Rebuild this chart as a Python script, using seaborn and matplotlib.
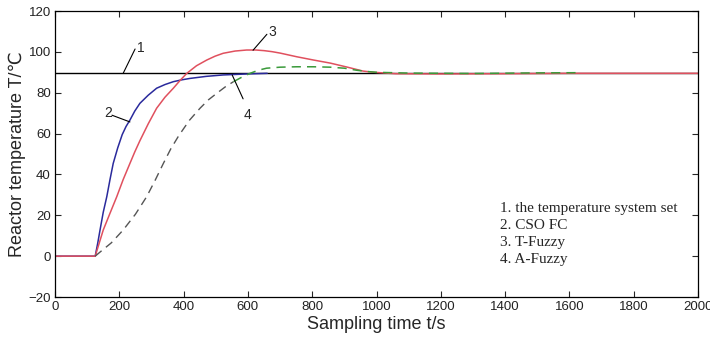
import numpy as np
import pandas as pd
import seaborn as sns
import matplotlib.pyplot as plt

# %% data
set_t = [0, 2000]
set_T = [89.5, 89.5]

cso_t = [0, 125, 133, 140, 150, 161, 171, 181, 195, 209, 221, 233, 248, 264, 290, 316,
         342, 368, 394, 420, 470, 523, 600, 660]
cso_T = [0, 0, 6.5, 12.8, 21.5, 29.1, 37.5, 45.4, 53.0, 59.5, 63.5, 66.6, 71.0, 74.8, 78.8, 82.2,
         84.0, 85.4, 86.3, 87.0, 88.0, 88.7, 89.2, 89.5]

tfz_t = [0, 125, 150, 171, 192, 212, 233, 248, 264, 290, 316, 342, 368, 390, 410, 440, 472,
         498, 523, 560, 596, 625, 650, 675, 700, 752, 804, 856, 907, 958, 985, 1011, 1060,
         1200, 1400, 1600, 2000]
tfz_T = [0, 0, 12.8, 21.0, 29.1, 37.5, 45.4, 51.0, 56.5, 64.8, 72.4, 77.8, 82.2, 86.2, 89.5, 93.2, 96.0,
         97.9, 99.3, 100.4, 100.9, 100.9, 100.6, 100.1, 99.4, 97.6, 96.0, 94.5, 92.6, 90.6, 90.1, 89.8, 89.3,
         89.2, 89.3, 89.5, 89.5]

afz_t = [125, 140, 175, 212, 250, 285, 311, 337, 360, 385, 418, 451, 477, 503, 529, 555,
         581, 607, 632, 658, 700, 752, 804, 856, 900, 938, 970, 1000, 1100, 1300, 1500, 1620]
afz_T = [0, 2.0, 6.5, 12.8, 20.5, 29.1, 37.0, 45.4, 52.5, 59.0, 66.5, 72.4, 76.5, 79.7, 82.8, 85.4,
         87.6, 89.5, 91.0, 92.0, 92.5, 92.7, 92.7, 92.5, 92.0, 91.0, 90.4, 90.0, 89.6, 89.4, 89.7, 89.8]

legend_lines = ["1. the temperature system set", "2. CSO FC", "3. T-Fuzzy", "4. A-Fuzzy"]
x_ticks = [0, 200, 400, 600, 800, 1000, 1200, 1400, 1600, 1800, 2000]
y_ticks = [-20, 0, 20, 40, 60, 80, 100, 120]

# %% plot
sns.set_style("ticks")
plt.rcParams['font.family'] = ['Liberation Sans', 'DejaVu Sans']

fig = plt.figure(figsize=(7.1, 3.46), dpi=100)
ax = fig.add_axes([0.0775, 0.1416, 0.9056, 0.8266])

sns.lineplot(x=set_t, y=set_T, ax=ax, color='black', lw=1.0)
sns.lineplot(x=cso_t, y=cso_T, ax=ax, color='#2a2a9c', lw=1.1)
sns.lineplot(x=tfz_t, y=tfz_T, ax=ax, color='#e0505e', lw=1.1)
# A-Fuzzy: dark dashes on the rise, green once it nears the set point
split = 15
sns.lineplot(x=afz_t[:split + 1], y=afz_T[:split + 1], ax=ax, color='#555555', lw=1.0,
             linestyle=(0, (6, 4)))
sns.lineplot(x=afz_t[split:], y=afz_T[split:], ax=ax, color='#3a9a3a', lw=1.1,
             linestyle=(0, (6, 4)))

# curve number callouts
ax.plot([212, 249], [89.5, 101.4], color='black', lw=0.8)
ax.text(256, 102, "1", fontsize=10, ha='left', va='center')
ax.plot([177, 233], [69, 65.7], color='black', lw=0.8)
ax.text(165, 70, "2", fontsize=10, ha='center', va='center')
ax.plot([616, 659], [100.8, 108.6], color='black', lw=0.8)
ax.text(675, 109.5, "3", fontsize=10, ha='center', va='center')
ax.plot([551, 585], [88.7, 77], color='black', lw=0.8)
ax.text(600, 69, "4", fontsize=10, ha='center', va='center')

for k, line in enumerate(legend_lines):
    ax.text(1384, 23.1 - k * 8.3, line, fontsize=11, ha='left', va='center',
            family=['Liberation Serif', 'DejaVu Serif'])

ax.set_xlim(0, 2000)
ax.set_ylim(-20, 120)
ax.set_xticks(x_ticks)
ax.set_yticks(y_ticks)
ax.tick_params(direction='in', length=4, width=0.8, top=True, right=True,
               labelsize=9.5, pad=3, labelcolor='#222222')
for s in ax.spines.values():
    s.set_linewidth(0.9)
    s.set_color('black')

ax.set_xlabel("Sampling time t/s", fontsize=13, labelpad=2)
ax.set_ylabel("Reactor temperature T/\u2103", fontsize=13, labelpad=2)

fig.savefig("out.png", dpi=100)
